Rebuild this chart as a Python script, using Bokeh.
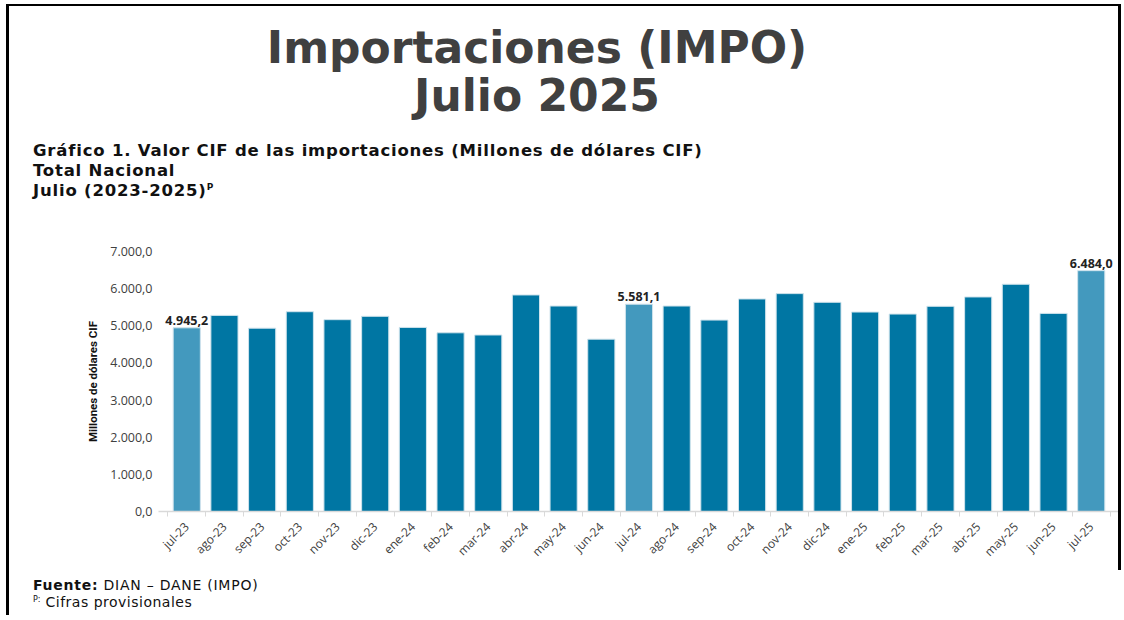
from bokeh.plotting import figure
from bokeh.models import ColumnDataSource, Range1d, FixedTicker, LabelSet, Div
from bokeh.core.properties import value
from bokeh.layouts import column
from bokeh.embed import file_html
from bokeh.resources import INLINE
import math

# ---------------- data ----------------
months = ["jul-23", "ago-23", "sep-23", "oct-23", "nov-23", "dic-23", "ene-24", "feb-24",
          "mar-24", "abr-24", "may-24", "jun-24", "jul-24", "ago-24", "sep-24", "oct-24",
          "nov-24", "dic-24", "ene-25", "feb-25", "mar-25", "abr-25", "may-25", "jun-25", "jul-25"]
values = [4945.2, 5280.0, 4935.0, 5379.0, 5165.0, 5255.0, 4956.0, 4811.0,
          4752.0, 5830.0, 5532.0, 4640.0, 5581.1, 5532.0, 5154.0, 5722.0,
          5866.0, 5632.0, 5370.0, 5316.0, 5524.0, 5776.0, 6118.0, 5334.0, 6484.0]
highlight_months = ["jul-23", "jul-24", "jul-25"]
highlight_labels = ["4.945,2", "5.581,1", "6.484,0"]
y_ticks = [0, 1000, 2000, 3000, 4000, 5000, 6000, 7000]
y_tick_labels = ["0,0", "1.000,0", "2.000,0", "3.000,0", "4.000,0", "5.000,0", "6.000,0", "7.000,0"]

title_1 = "Importaciones (IMPO)"
title_2 = "Julio 2025"
sub_1 = "Gráfico 1. Valor CIF de las importaciones (Millones de dólares CIF)"
sub_2 = "Total Nacional"
sub_3 = "Julio (2023-2025)"
y_label = "Millones de dólares CIF"
source_label = "Fuente:"
source_text = "DIAN – DANE (IMPO)"
note_text = "Cifras provisionales"

DARK = "#0076A3"
LIGHT = "#4399BE"
FONT = "'Open Sans', 'Noto Sans', sans-serif"
WIDE = "'DejaVu Sans', 'Open Sans', sans-serif"

# category slots on a numeric axis: centres for bars/labels, boundaries for tick marks
centres = [i + 0.5 for i in range(len(months))]
bounds = list(range(len(months) + 1))

colors = [LIGHT if m in highlight_months else DARK for m in months]
src = ColumnDataSource(dict(x=centres, top=values, color=colors))

lab_x = [centres[months.index(m)] for m in highlight_months]
lab_vals = [values[months.index(m)] for m in highlight_months]
lab_src = ColumnDataSource(dict(x=lab_x, y=lab_vals, text=highlight_labels))

BW = 1112          # box width incl. right border (page x 9 .. 1121)
CW = 1109          # inner width
HEAD_H = 199       # page y 6 .. 205
FIG_H = 365        # page y 205 .. 570
FOOT_H = 45
PAD = 0.25         # room so end labels are not cut

# ---------------- chart ----------------
p = figure(width=BW, height=FIG_H, x_range=Range1d(-PAD, len(months) + PAD), y_range=Range1d(0, 7000),
           output_backend="svg", toolbar_location=None,
           min_border_left=149, min_border_right=2, min_border_top=46, min_border_bottom=59,
           margin=0, styles={"border-right": "3px solid black"})
p.outline_line_color = None
p.xgrid.visible = False
p.ygrid.visible = False
p.background_fill_color = "white"
p.border_fill_color = "white"

p.vbar(x="x", top="top", width=0.72, source=src, fill_color="color",
       line_color="#cfe3ec", line_width=1)

p.add_layout(LabelSet(x="x", y="y", text="text", source=lab_src, text_align="center",
                      text_baseline="bottom", y_offset=3, text_font=value(FONT),
                      text_font_style="bold", text_font_size="12.5px", text_color="#222222"))

xa = p.xaxis[0]
xa.ticker = FixedTicker(ticks=centres, minor_ticks=bounds)
xa.major_label_overrides = {c: m for c, m in zip(centres, months)}
xa.axis_line_color = "#d9d9d9"
xa.axis_line_width = 1.5
xa.major_tick_line_color = None
xa.major_tick_out = 0
xa.major_tick_in = 0
xa.minor_tick_line_color = "#d9d9d9"
xa.minor_tick_out = 5
xa.minor_tick_in = 0
xa.major_label_orientation = math.pi / 4
xa.major_label_standoff = 8
xa.major_label_text_font = FONT
xa.major_label_text_font_size = "12px"
xa.major_label_text_color = "#404040"

ya = p.yaxis[0]
ya.ticker = FixedTicker(ticks=y_ticks)
ya.major_label_overrides = {t: l for t, l in zip(y_ticks, y_tick_labels)}
ya.axis_line_color = None
ya.major_tick_line_color = None
ya.minor_tick_line_color = None
ya.major_tick_out = 0
ya.major_tick_in = 0
ya.major_label_standoff = 6
ya.major_label_text_font = FONT
ya.major_label_text_font_size = "12.5px"
ya.major_label_text_color = "#404040"
ya.axis_label = y_label
ya.axis_label_text_font = "Roboto, sans-serif"
ya.axis_label_text_font_style = "bold"
ya.axis_label_text_font_size = "11.5px"
ya.axis_label_text_color = "#111111"
ya.axis_label_standoff = 7

# ---------------- header / footer ----------------
abs_style = "position:absolute;white-space:nowrap;"
sub_style = f"{abs_style}left:24px;line-height:1;font-size:16.5px;letter-spacing:0.8px;font-weight:bold;color:#111;"
header_html = (
    f'<div style="position:relative;width:{CW}px;height:{HEAD_H}px;font-family:{WIDE};">'
    f'<div style="{abs_style}left:128px;top:17.5px;width:800px;text-align:center;font-size:44px;'
    f'line-height:48px;font-weight:bold;color:#404040;">{title_1}<br>{title_2}</div>'
    f'<div style="{sub_style}top:137px;">{sub_1}</div>'
    f'<div style="{sub_style}top:157px;">{sub_2}</div>'
    f'<div style="{sub_style}top:177px;">{sub_3}'
    f'<span style="font-size:9px;vertical-align:6px;letter-spacing:0;">P</span></div>'
    '</div>'
)
foot_style = f"{abs_style}left:24px;line-height:1;font-size:14px;"
footer_html = (
    f'<div style="position:relative;width:{CW}px;height:{FOOT_H}px;font-family:{WIDE};color:#111;">'
    f'<div style="{foot_style}top:8px;letter-spacing:0.75px;"><b>{source_label}</b> {source_text}</div>'
    f'<div style="{foot_style}top:25px;letter-spacing:0.5px;">'
    f'<span style="font-size:8px;vertical-align:5px;letter-spacing:0;">P:</span> {note_text}</div>'
    '</div>'
)
header = Div(text=header_html, width=BW, height=HEAD_H, margin=0,
             styles={"border-right": "3px solid black"})
footer = Div(text=footer_html, width=CW, height=FOOT_H, margin=0)

layout = column(header, p, footer, spacing=0, margin=(4, 0, 0, 6),
                styles={"border-top": "2px solid black", "border-left": "3px solid black"})

open("out.html", "w").write(file_html(layout, INLINE))
